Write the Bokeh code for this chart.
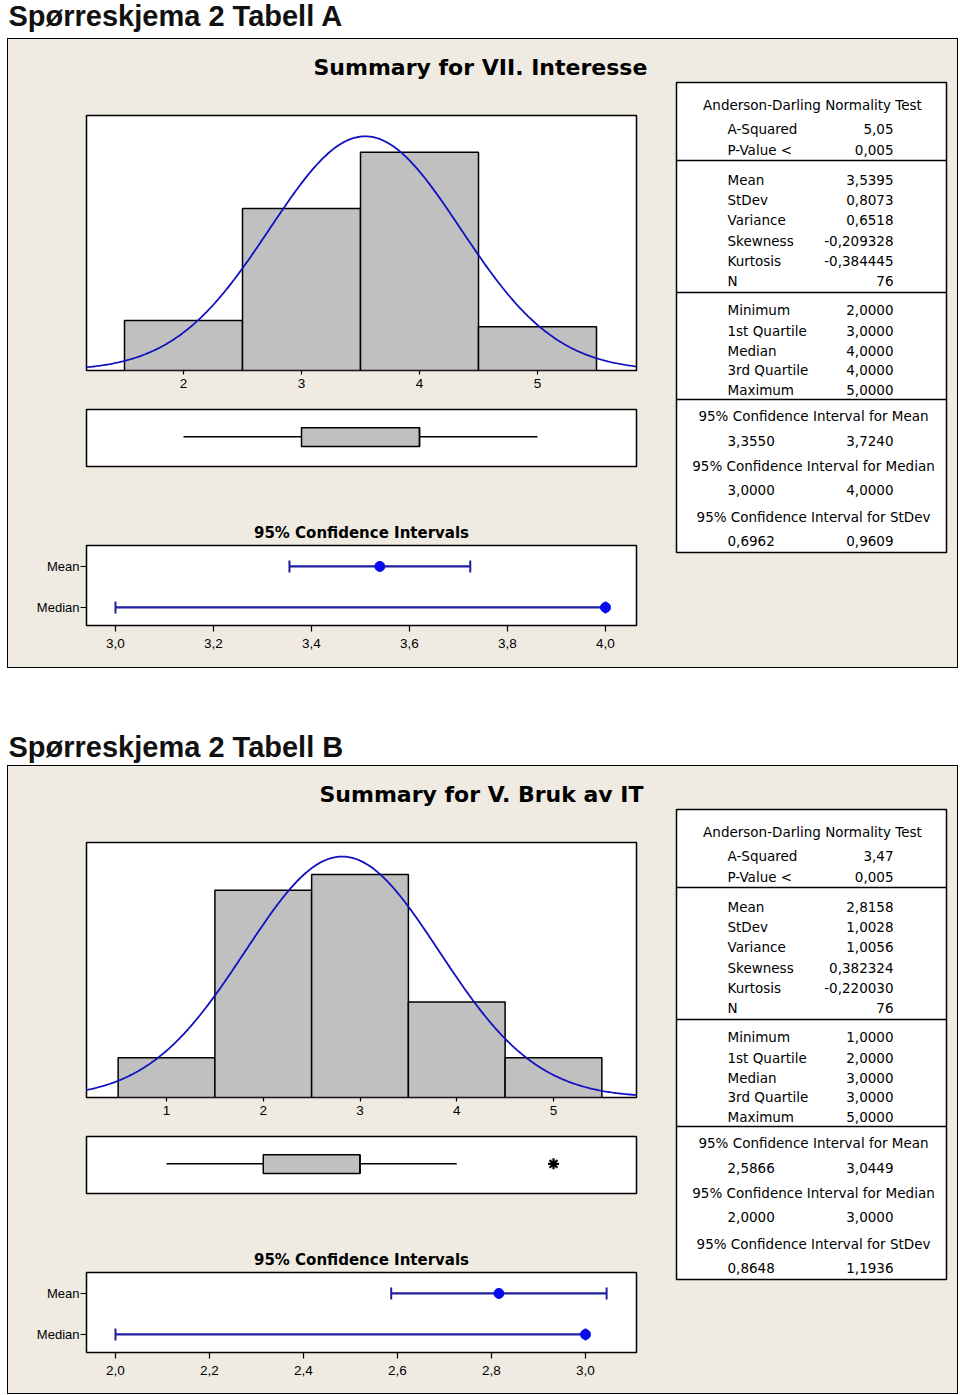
import numpy as np
from bokeh.plotting import figure
from bokeh.layouts import column, row
from bokeh.models import Range1d, FixedTicker, Spacer
from bokeh.core.properties import value
from bokeh.embed import file_html
from bokeh.resources import INLINE

# ---------------- data : panel A ----------------
A_page_title = "Spørreskjema 2 Tabell A"
A_title = "Summary for VII. Interesse"
A_values = [2, 3, 4, 5]
A_counts = [8, 26, 35, 7]
A_hist_ticks = [2, 3, 4, 5]
A_hist_tick_labels = ["2", "3", "4", "5"]
A_mean, A_stdev, A_n, A_median = 3.5395, 0.8073, 76, 4.0
A_box = [2, 3, 4, 4, 5]          # lower whisker, Q1, median, Q3, upper whisker
A_outliers = []
A_ci_mean = [3.3550, 3.7240]
A_ci_median = [3.0, 4.0]
A_ci_ticks = [3.0, 3.2, 3.4, 3.6, 3.8, 4.0]
A_ci_tick_labels = ["3,0", "3,2", "3,4", "3,6", "3,8", "4,0"]
A_ad = ["5,05", "0,005"]
A_desc = ["3,5395", "0,8073", "0,6518", "-0,209328", "-0,384445", "76"]
A_quart = ["2,0000", "3,0000", "4,0000", "4,0000", "5,0000"]
A_ci_text = [["3,3550", "3,7240"], ["3,0000", "4,0000"], ["0,6962", "0,9609"]]

# ---------------- data : panel B ----------------
B_page_title = "Spørreskjema 2 Tabell B"
B_title = "Summary for V. Bruk av IT"
B_values = [1, 2, 3, 4, 5]
B_counts = [5, 26, 28, 12, 5]
B_hist_ticks = [1, 2, 3, 4, 5]
B_hist_tick_labels = ["1", "2", "3", "4", "5"]
B_mean, B_stdev, B_n, B_median = 2.8158, 1.0028, 76, 3.0
B_box = [1, 2, 3, 3, 4]
B_outliers = [5]
B_ci_mean = [2.5866, 3.0449]
B_ci_median = [2.0, 3.0]
B_ci_ticks = [2.0, 2.2, 2.4, 2.6, 2.8, 3.0]
B_ci_tick_labels = ["2,0", "2,2", "2,4", "2,6", "2,8", "3,0"]
B_ad = ["3,47", "0,005"]
B_desc = ["2,8158", "1,0028", "1,0056", "0,382324", "-0,220030", "76"]
B_quart = ["1,0000", "2,0000", "3,0000", "3,0000", "5,0000"]
B_ci_text = [["2,5866", "3,0449"], ["2,0000", "3,0000"], ["0,8648", "1,1936"]]

ad_labels = ["A-Squared", "P-Value <"]
desc_labels = ["Mean", "StDev", "Variance", "Skewness", "Kurtosis", "N"]
quart_labels = ["Minimum", "1st Quartile", "Median", "3rd Quartile", "Maximum"]
ci_headers = ["95% Confidence Interval for Mean",
              "95% Confidence Interval for Median",
              "95% Confidence Interval for StDev"]
ci_rows = ["Median", "Mean"]

# ---------------- style / layout ----------------
BEIGE = "#EFEBE2"
GRAY = "#C0C0C0"
CURVE = "#1010C0"
CI_LINE = "#1E1EA0"
DOT = "#0A0AF0"
LEFT_W, TABLE_W, INNER_W = 648, 301, 949
SUM_H, HIST_H, BOX_H = 41, 316, 110
TFONT = "DejaVu Sans"


def base_fig(w, h, **kw):
    p = figure(width=w, height=h, output_backend="svg", toolbar_location=None, **kw)
    p.border_fill_color = BEIGE
    p.background_fill_color = "white"
    p.outline_line_color = "black"
    p.outline_line_width = 1.5
    p.grid.visible = False
    return p


def blank_fig(w, h, xr, yr, bg):
    p = figure(width=w, height=h, x_range=xr, y_range=yr, x_axis_location=None,
               y_axis_location=None, min_border=0, output_backend="svg",
               toolbar_location=None)
    p.background_fill_color = bg
    p.border_fill_color = bg
    p.outline_line_color = None
    p.grid.visible = False
    return p


def style_xaxis(ax, ticks, labels, tick_out, standoff):
    ax.ticker = FixedTicker(ticks=ticks)
    ax.major_label_overrides = dict(zip(ticks, labels))
    ax.axis_line_color = None
    ax.major_tick_in = 0
    ax.major_tick_out = tick_out
    ax.major_tick_line_color = "black"
    ax.major_tick_line_width = 1.2
    ax.minor_tick_line_color = None
    ax.major_label_standoff = standoff
    ax.major_label_text_font = "Liberation Sans"
    ax.major_label_text_font_size = "13.5px"
    ax.major_label_text_color = "black"


def make_sum_title(title, x_left):
    # panel-relative coordinates (panel border top = 0)
    p = blank_fig(INNER_W, SUM_H, Range1d(8, 8 + INNER_W), Range1d(1 + SUM_H, 1), BEIGE)
    p.text(x=[x_left], y=[29], text=[title], text_font=value(TFONT), text_font_style="bold",
           text_font_size="22px", text_align="left", text_baseline="middle",
           text_color="black")
    return p


def make_hist(values, counts, mean, sd, n, ticks, labels, xr, ytop):
    p = base_fig(LEFT_W, HIST_H, x_range=xr, y_range=Range1d(0, ytop),
                 y_axis_location=None, min_border_left=78, min_border_right=20,
                 min_border_top=HIST_H - 255 - 26, min_border_bottom=26)
    style_xaxis(p.xaxis[0], ticks, labels, 4, 4)
    p.quad(left=[v - 0.5 for v in values], right=[v + 0.5 for v in values],
           bottom=0, top=counts, fill_color=GRAY, line_color="black", line_width=1.5)
    xs = np.linspace(xr.start, xr.end, 400)
    ys = n * np.exp(-0.5 * ((xs - mean) / sd) ** 2) / (sd * np.sqrt(2 * np.pi))
    p.line(xs, ys, line_color=CURVE, line_width=1.8)
    return p


def make_box(xr, box, outliers):
    p = base_fig(LEFT_W, BOX_H, x_range=xr, y_range=Range1d(0, 1),
                 x_axis_location=None, y_axis_location=None,
                 min_border_left=78, min_border_right=20, min_border_top=13, min_border_bottom=40)
    lo, q1, med, q3, hi = box
    p.segment(x0=[lo, q3], x1=[q1, hi], y0=[0.52, 0.52], y1=[0.52, 0.52],
              line_color="black", line_width=1.5)
    p.quad(left=[q1], right=[q3], bottom=[0.35], top=[0.68],
           fill_color=GRAY, line_color="black", line_width=1.5)
    p.segment(x0=[med], x1=[med], y0=[0.35], y1=[0.68], line_color="black", line_width=1.5)
    if outliers:
        p.scatter(outliers, [0.52] * len(outliers), marker="asterisk", size=11,
                  line_color="black", line_width=2.2)
    return p


def make_ci(xr, ci_mean, mean, ci_median, median, ticks, labels, height):
    p = base_fig(LEFT_W, height, x_range=xr, y_range=Range1d(0.56, 2.51),
                 min_border_left=78, min_border_right=20, min_border_top=39,
                 min_border_bottom=height - 39 - 80)
    p.title.text = "95% Confidence Intervals"
    p.title.text_font = TFONT
    p.title.text_font_size = "15px"
    p.title.text_font_style = "bold"
    p.title.text_color = "black"
    p.title.align = "center"
    p.title.standoff = 7
    style_xaxis(p.xaxis[0], ticks, labels, 6, 7)
    ya = p.yaxis[0]
    ya.ticker = FixedTicker(ticks=[1, 2])
    ya.major_label_overrides = {1: ci_rows[0], 2: ci_rows[1]}
    ya.axis_line_color = None
    ya.major_tick_in = 0
    ya.major_tick_out = 6
    ya.major_tick_line_width = 1.2
    ya.minor_tick_line_color = None
    ya.major_label_standoff = 1
    ya.major_label_text_font = "Liberation Sans"
    ya.major_label_text_font_size = "13px"
    ya.major_label_text_color = "black"
    ypos = [2, 1]
    lows = [ci_mean[0], ci_median[0]]
    highs = [ci_mean[1], ci_median[1]]
    p.segment(x0=lows, x1=highs, y0=ypos, y1=ypos, line_color=CI_LINE, line_width=2.2)
    p.scatter(x=lows + highs, y=ypos + ypos, marker="dash", angle=np.pi / 2, size=12,
              line_color=CI_LINE, line_width=2)
    p.scatter(x=[mean, median], y=ypos, marker="circle", size=10,
              fill_color=DOT, line_color=DOT)
    return p


def make_table(h, ad, desc, quart, ci_vals):
    # panel-relative coordinates: table figure starts below the summary title
    top = 1 + SUM_H
    p = blank_fig(TABLE_W, h, Range1d(656, 656 + TABLE_W), Range1d(top + h, top), BEIGE)
    L, R, T, B = 676, 946, 44, 514
    p.quad(left=[L], right=[R], top=[T], bottom=[B], fill_color="white",
           line_color="black", line_width=1.5)
    p.segment(x0=[L] * 3, x1=[R] * 3, y0=[122, 254, 361], y1=[122, 254, 361],
              line_color="black", line_width=1.5)
    common = dict(text_font=value(TFONT), text_font_size="13.5px", text_baseline="middle",
                  text_color="black")
    lab_y = [90, 111, 141, 161, 181, 202, 222, 242, 271, 292, 312, 331, 351]
    labs = ad_labels + desc_labels + quart_labels
    vals = ad + desc + quart
    p.text(x=[812], y=[66], text=["Anderson-Darling Normality Test"], text_align="center", **common)
    p.text(x=[727] * len(labs), y=lab_y, text=labs, text_align="left", **common)
    p.text(x=[893] * len(vals), y=lab_y, text=vals, text_align="right", **common)
    p.text(x=[813] * 3, y=[377, 427, 478], text=ci_headers, text_align="center", **common)
    p.text(x=[727] * 3, y=[402, 451, 502], text=[c[0] for c in ci_vals], text_align="left", **common)
    p.text(x=[893] * 3, y=[402, 451, 502], text=[c[1] for c in ci_vals], text_align="right", **common)
    return p


def make_page_title(text, h, mid):
    p = blank_fig(958, h, Range1d(0, 958), Range1d(h, 0), "white")
    p.text(x=[8], y=[mid], text=[text], text_font=value("Liberation Sans"),
           text_font_style="bold", text_font_size="29px", text_baseline="middle",
           text_color="#111111")
    return p


def make_panel(title, title_x, values, counts, mean, sd, n, median, hticks, hlabels, hxr, ytop,
               box, outliers, ci_mean, ci_median, cticks, clabels, cxr,
               ad, desc, quart, ci_text, ci_h):
    s = make_sum_title(title, title_x)
    h = make_hist(values, counts, mean, sd, n, hticks, hlabels, hxr, ytop)
    b = make_box(hxr, box, outliers)
    c = make_ci(cxr, ci_mean, mean, ci_median, median, cticks, clabels, ci_h)
    t = make_table(HIST_H + BOX_H + ci_h, ad, desc, quart, ci_text)
    panel = column(s, row(column(h, b, c), t),
                   styles={"border": "1px solid black", "background-color": BEIGE})
    return row(Spacer(width=7, height=10), panel)


A_hxr = Range1d(2 - 97 / 118, 2 - 97 / 118 + 550 / 118)
A_cxr = Range1d(3 - 29 / 490, 3 - 29 / 490 + 550 / 490)
B_hxr = Range1d(1 - 80 / 96.75, 1 - 80 / 96.75 + 550 / 96.75)
B_cxr = Range1d(2 - 29 / 470, 2 - 29 / 470 + 550 / 470)

tA = make_page_title(A_page_title, 38, 15)
pA = make_panel(A_title, 313, A_values, A_counts, A_mean, A_stdev, A_n, A_median,
                A_hist_ticks, A_hist_tick_labels, A_hxr, 40.9,
                A_box, A_outliers, A_ci_mean, A_ci_median, A_ci_ticks, A_ci_tick_labels, A_cxr,
                A_ad, A_desc, A_quart, A_ci_text, 161)
tB = make_page_title(B_page_title, 97, 78)
pB = make_panel(B_title, 319, B_values, B_counts, B_mean, B_stdev, B_n, B_median,
                B_hist_ticks, B_hist_tick_labels, B_hxr, 32.0,
                B_box, B_outliers, B_ci_mean, B_ci_median, B_ci_ticks, B_ci_tick_labels, B_cxr,
                B_ad, B_desc, B_quart, B_ci_text, 160)

layout = column(tA, pA, tB, pB)
open("out.html", "w", encoding="utf-8").write(file_html(layout, INLINE, title="Summary"))
